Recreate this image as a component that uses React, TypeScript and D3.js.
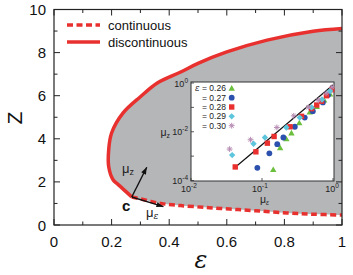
import React from "react";
import * as d3 from "d3";

const width = 353;
const height = 275;
const plot = { left: 54, right: 342, top: 9.5, bottom: 225 };
const inset = { left: 191, right: 334, top: 82, bottom: 181 };

const red = "#e8312f";
const gray = "#b5b6b8";

// phase boundary, starting at the critical point c
const discEps = [0.27, 0.25, 0.225, 0.205, 0.19, 0.19, 0.2, 0.24, 0.3, 0.36, 0.44, 0.5, 0.6, 0.74, 0.9, 1.0];
const discZ = [1.3, 1.55, 1.85, 2.1, 2.7, 3.5, 4.27, 5.2, 5.95, 6.6, 7.1, 7.5, 8.03, 8.58, 8.99, 9.12];
const contEps = [0.27, 0.32, 0.36, 0.4, 0.44, 0.52, 0.61, 0.7, 0.81, 0.9, 1.0];
const contZ = [1.3, 1.15, 1.02, 0.95, 0.9, 0.82, 0.74, 0.66, 0.56, 0.5, 0.46];

const critical = { eps: 0.27, z: 1.3 };
const arrowZ = { eps: 0.322, z: 2.68 };
const arrowEps = { eps: 0.38, z: 0.85 };

// inset: mu_z vs mu_eps for several epsilon
const seriesLabels = ["0.26", "0.27", "0.28", "0.29", "0.30"];
const muEps26 = [0.144, 0.18, 0.22, 0.26, 0.335, 0.47, 0.59, 0.75, 0.91];
const muZ26 = [2.8e-4, 2.2e-3, 5.1e-3, 8.9e-3, 0.023, 0.064, 0.107, 0.2, 0.35];
const muEps27 = [0.086, 0.127, 0.164, 0.2, 0.29, 0.4, 0.52, 0.72, 0.85];
const muZ27 = [3.3e-4, 1.3e-3, 3.1e-3, 5.8e-3, 0.016, 0.038, 0.07, 0.16, 0.32];
const muEps28 = [0.042, 0.082, 0.119, 0.148, 0.248, 0.36, 0.5, 0.59, 0.69, 0.81, 0.96];
const muZ28 = [3.6e-4, 1.5e-3, 3.4e-3, 6.4e-3, 0.016, 0.043, 0.089, 0.125, 0.18, 0.3, 0.53];
const muEps29 = [0.038, 0.076, 0.11, 0.22, 0.34, 0.5, 0.7, 0.91];
const muZ29 = [1.1e-3, 3.2e-3, 5.8e-3, 0.015, 0.038, 0.1, 0.21, 0.47];
const muEps30 = [0.035, 0.069, 0.162, 0.28, 0.45, 0.62, 0.8, 0.97];
const muZ30 = [1.95e-3, 4.7e-3, 0.015, 0.045, 0.1, 0.195, 0.38, 0.68];
const fitEps = [0.042, 1.0];
const fitZ = [3.5e-4, 0.83];

const series = [
  { eps: muEps26, z: muZ26, color: "#6cbf3c", shape: "triangle" },
  { eps: muEps27, z: muZ27, color: "#2b50ad", shape: "circle" },
  { eps: muEps28, z: muZ28, color: "#ea2f2f", shape: "square" },
  { eps: muEps29, z: muZ29, color: "#5ec6dc", shape: "diamond" },
  { eps: muEps30, z: muZ30, color: "#b78cb4", shape: "asterisk" },
];

const font = "'Liberation Sans', Arial, sans-serif";

function Marker({ shape, x, y, color }: { shape: string; x: number; y: number; color: string }) {
  if (shape === "circle") return <circle cx={x} cy={y} r={2.9} fill={color} />;
  if (shape === "square") return <rect x={x - 2.7} y={y - 2.7} width={5.4} height={5.4} fill={color} />;
  if (shape === "triangle")
    return <path d={`M${x},${y - 3.2}L${x + 3.2},${y + 2.4}L${x - 3.2},${y + 2.4}Z`} fill={color} />;
  if (shape === "diamond")
    return <path d={`M${x},${y - 3.2}L${x + 3.2},${y}L${x},${y + 3.2}L${x - 3.2},${y}Z`} fill={color} />;
  const r = 2.9;
  return (
    <g stroke={color} strokeWidth={1}>
      <line x1={x - r} y1={y} x2={x + r} y2={y} />
      <line x1={x} y1={y - r} x2={x} y2={y + r} />
      <line x1={x - r * 0.7} y1={y - r * 0.7} x2={x + r * 0.7} y2={y + r * 0.7} />
      <line x1={x - r * 0.7} y1={y + r * 0.7} x2={x + r * 0.7} y2={y - r * 0.7} />
    </g>
  );
}

export default function App() {
  const x = d3.scaleLinear().domain([0, 1]).range([plot.left, plot.right]);
  const y = d3.scaleLinear().domain([0, 10]).range([plot.bottom, plot.top]);
  const ix = d3.scaleLog().domain([0.01, 1]).range([inset.left, 333]);
  const iy = d3.scaleLog().domain([1e-4, 1]).range([180.5, 83]);

  const disc: [number, number][] = discEps.map((e, i) => [x(e), y(discZ[i])]);
  const cont: [number, number][] = contEps.map((e, i) => [x(e), y(contZ[i])]);
  const line = d3.line().curve(d3.curveCatmullRom.alpha(0.5));
  const discPath = line(disc) || "";
  const contPath = line(cont) || "";
  const areaPath = discPath + (line([...cont].reverse()) || "").replace(/^M/, "L") + "Z";

  const xTicks = d3.range(0, 1.0001, 0.1);
  const yTicks = d3.range(0, 11, 1);
  const decades = [-4, -3, -2, -1, 0];

  const arrowHead = (x1: number, y1: number, x2: number, y2: number) => {
    const a = Math.atan2(y2 - y1, x2 - x1);
    const L = 7, w = 2.6;
    const bx = x2 - L * Math.cos(a), by = y2 - L * Math.sin(a);
    return `M${x2},${y2}L${bx + w * Math.sin(a)},${by - w * Math.cos(a)}L${bx - w * Math.sin(a)},${by + w * Math.cos(a)}Z`;
  };
  const cx = x(critical.eps), cy = y(critical.z);
  const azx = x(arrowZ.eps), azy = y(arrowZ.z);
  const aex = x(arrowEps.eps), aey = y(arrowEps.z);

  return (
    <svg width={width} height={height} style={{ position: "absolute", left: 0, top: 0 }} fontFamily={font}>
      <rect width={width} height={height} fill="#fff" />
      <path d={areaPath} fill={gray} />
      <path d={contPath} fill="none" stroke={red} strokeWidth={3.5} strokeDasharray="6 3.5" />
      <path d={discPath} fill="none" stroke={red} strokeWidth={3.5} strokeLinejoin="round" />

      {/* frame and ticks */}
      <rect x={plot.left} y={plot.top} width={plot.right - plot.left} height={plot.bottom - plot.top} fill="none" stroke="#222" strokeWidth={1.2} />
      {xTicks.map((t, i) => {
        const len = i % 2 === 0 ? 6 : 3.5;
        return (
          <g key={"x" + i} stroke="#222" strokeWidth={1}>
            <line x1={x(t)} x2={x(t)} y1={plot.bottom} y2={plot.bottom - len} />
            <line x1={x(t)} x2={x(t)} y1={plot.top} y2={plot.top + len} />
          </g>
        );
      })}
      {yTicks.map((t, i) => {
        const len = i % 2 === 0 ? 6 : 3.5;
        return (
          <g key={"y" + i} stroke="#222" strokeWidth={1}>
            <line x1={plot.left} x2={plot.left + len} y1={y(t)} y2={y(t)} />
            <line x1={plot.right} x2={plot.right - len} y1={y(t)} y2={y(t)} />
          </g>
        );
      })}
      {xTicks.filter((_, i) => i % 2 === 0).map((t) => (
        <text key={"xl" + t} x={x(t)} y={247} fontSize={15} textAnchor="middle" fill="#111">
          {d3.format("~g")(t)}
        </text>
      ))}
      {yTicks.filter((_, i) => i % 2 === 0).map((t) => (
        <text key={"yl" + t} x={46} y={y(t) + 5.5} fontSize={15} textAnchor="end" fill="#111">
          {t}
        </text>
      ))}
      <text x={201} y={268} fontSize={24} fontStyle="italic" fontFamily="'DejaVu Serif', serif" textAnchor="middle" fill="#111">ε</text>
      <text transform="translate(22,118) rotate(-90)" fontSize={21} textAnchor="middle" fill="#111">Z</text>

      {/* legend */}
      <line x1={67} x2={100} y1={25} y2={25} stroke={red} strokeWidth={3.5} strokeDasharray="6 3.5" />
      <line x1={67} x2={100} y1={42} y2={42} stroke={red} strokeWidth={3.5} />
      <text x={108} y={29.5} fontSize={13} fill="#111">continuous</text>
      <text x={108} y={46.5} fontSize={13} fill="#111">discontinuous</text>

      {/* critical point arrows */}
      <g stroke="#111" strokeWidth={1.4}>
        <line x1={cx} y1={cy} x2={azx} y2={azy} />
        <line x1={cx} y1={cy} x2={aex} y2={aey} />
      </g>
      <path d={arrowHead(cx, cy, azx, azy)} fill="#111" />
      <path d={arrowHead(cx, cy, aex, aey)} fill="#111" />
      <text x={122} y={173} fontSize={13} fill="#222">μ<tspan fontSize={9} dy={2}>z</tspan></text>
      <text x={146} y={217} fontSize={13} fill="#222">μ<tspan fontSize={9} dy={2} fontStyle="italic" fontFamily="'DejaVu Serif', serif">ε</tspan></text>
      <text x={122} y={211} fontSize={15} fontWeight="bold" fill="#111">c</text>

      {/* inset */}
      <rect x={inset.left} y={inset.top} width={inset.right - inset.left} height={inset.bottom - inset.top} fill="#fff" stroke="#333" strokeWidth={1} />
      {decades.map((d) => (
        <line key={"iy" + d} x1={inset.left} x2={inset.left + 3} y1={iy(10 ** d)} y2={iy(10 ** d)} stroke="#333" strokeWidth={0.8} />
      ))}
      {[-2, -1, 0].map((d) => (
        <line key={"ix" + d} x1={ix(10 ** d)} x2={ix(10 ** d)} y1={inset.bottom} y2={inset.bottom - 3} stroke="#333" strokeWidth={0.8} />
      ))}
      {[0, -2, -4].map((d) => (
        <text key={"iyl" + d} x={188} y={iy(10 ** d) + 3.5} fontSize={9} textAnchor="end" fill="#222">
          10<tspan fontSize={6.5} dy={-4}>{d}</tspan>
        </text>
      ))}
      {[-2, -1, 0].map((d) => (
        <text key={"ixl" + d} x={ix(10 ** d) + (d < 0 ? -2 : -1)} y={192} fontSize={9} textAnchor="middle" fill="#222">
          10<tspan fontSize={6.5} dy={-4}>{d}</tspan>
        </text>
      ))}
      <text x={170} y={136} fontSize={10.5} textAnchor="end" fill="#222">μ<tspan fontSize={7} dy={1.5}>z</tspan></text>
      <text x={260} y={203} fontSize={10.5} fill="#222">μ<tspan fontSize={7} dy={1.5} fontStyle="italic">ε</tspan></text>

      <line x1={ix(fitEps[0])} y1={iy(fitZ[0])} x2={ix(fitEps[1])} y2={iy(fitZ[1])} stroke="#111" strokeWidth={1.2} />
      {series.map((s, si) =>
        s.eps.map((e, i) => (
          <Marker key={si + "-" + i} shape={s.shape} x={ix(e)} y={iy(s.z[i])} color={s.color} />
        ))
      )}

      {/* inset legend */}
      {series.map((s, i) => {
        const ly = 88.3 + i * 9.35;
        return (
          <g key={"lg" + i}>
            {i === 0 && (
              <text x={195} y={ly + 3} fontSize={8.5} fontStyle="italic" fontFamily="'DejaVu Serif', serif" fill="#222">ε</text>
            )}
            <text x={202} y={ly + 3} fontSize={8.5} fill="#222">= {seriesLabels[i]}</text>
            <Marker shape={s.shape} x={231.7} y={ly} color={s.color} />
          </g>
        );
      })}
    </svg>
  );
}
